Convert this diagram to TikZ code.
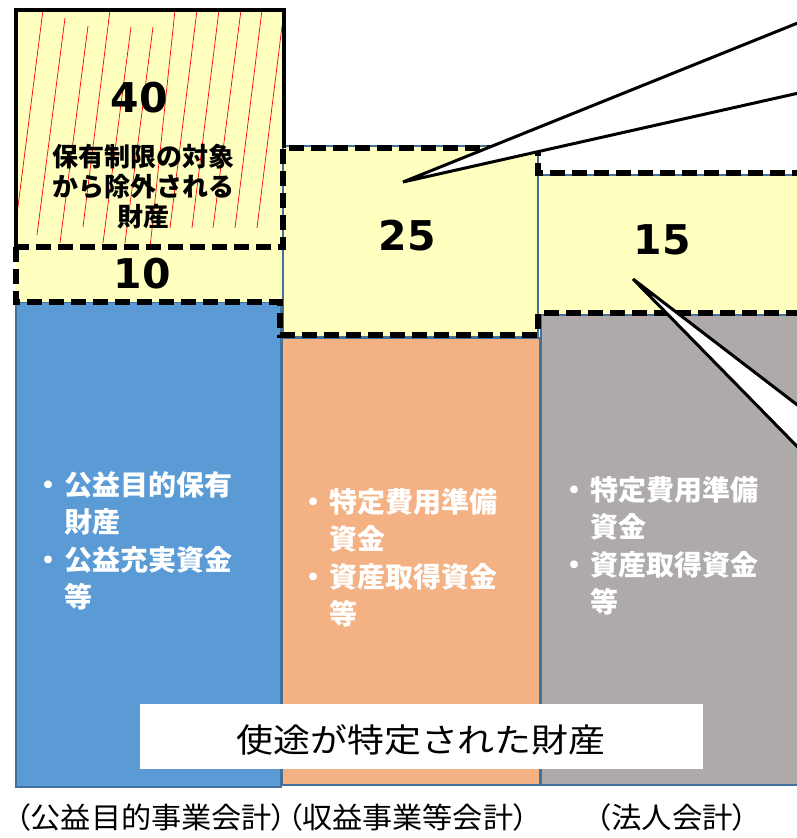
\documentclass[tikz,border=0pt]{standalone}
\usepackage{fontspec}
\usepackage{graphicx}
\newfontfamily\jp{Noto Sans CJK JP}
\newfontfamily\jpp[RawFeature=+palt]{Noto Sans CJK JP}
\newfontfamily\numf{DejaVu Sans}
\definecolor{yel}{HTML}{FFFFC0}
\definecolor{colblue}{HTML}{5B9BD5}
\definecolor{colorange}{HTML}{F4B183}
\definecolor{colgray}{HTML}{AEAAAA}
\definecolor{edgeblue}{HTML}{41719C}
\tikzset{
  colbox/.style={draw=edgeblue, line width=1.5pt},
  yelbox/.style={fill=yel},
  dashline/.style={line width=5.5pt, dash pattern=on 15pt off 7pt},
  callout/.style={draw=black, fill=white, line width=3pt, line join=miter},
  hatch/.style={draw=red, line width=0.7pt},
  numtext/.style={font=\numf\bfseries\fontsize{41}{41}\selectfont, inner sep=0pt},
  coltext/.style={text=white, font=\jp\bfseries\fontsize{28}{37.5}\selectfont, anchor=base west, inner sep=0pt},
  acctext/.style={font=\jpp\fontsize{29}{29}\selectfont, inner sep=0pt},
}
\begin{document}
\begin{tikzpicture}[x=1pt,y=-1pt]
\useasboundingbox (0,0) rectangle (797,838);
\begin{scope}
\clip (0,0) rectangle (797,838);
% columns
\fill[colblue] (16,302) rectangle (281,787);
\draw[colbox, line width=2pt] (16,302) rectangle (281,787);
\fill[colorange] (282,338) rectangle (540,785);
\draw[colbox] (282,338) rectangle (540,785);
\fill[colgray] (541,315) rectangle (810,785);
\draw[colbox] (541,315) rectangle (810,785);
% yellow boxes
\fill[yelbox] (16,10) rectangle (284,247);
\fill[yelbox] (16,247) rectangle (283,302);
\filldraw[yelbox, draw=edgeblue, line width=1.2pt] (283,146) rectangle (538,337);
\filldraw[yelbox, draw=edgeblue, line width=1.2pt] (538,175) rectangle (810,315);
% hatch lines
\foreach \xt/\yt/\xb/\yb in {43/10/15/230, 65/18/37/235, 88/26/60/243, 110/10/83/227,
  131/27/103/243, 153/27/125/243, 175/10/150/248, 197/10/170/228, 219/10/192/228,
  241/10/213/228, 262/10/235/228, 284/10/257/228}
  \draw[hatch] (\xt,\yt) -- (\xb,\yb);
% solid border of the 40 box
\draw[line width=3.5pt, line join=miter] (16,247) -- (16,10) -- (284,10) -- (284,148);
% dashed outline
\draw[dashline] (14,247) -- (283,247) -- (283,148) -- (538,148) -- (538,173) -- (810,173);
\draw[dashline] (16,247) -- (16,302) -- (280,302) -- (280,335) -- (538,335) -- (538,313) -- (810,313);
% callouts
\draw[callout] (403,182) -- (830,10) -- (830,86) -- cycle;
\draw[callout] (633,279) -- (830,430) -- (830,480) -- cycle;
\end{scope}
% numbers
\node[numtext] (n40) at (139,98) {40};
\node[numtext] (n10) at (142,274) {10};
\node[numtext] (n25) at (407,236) {25};
\node[numtext] (n15) at (662,240) {15};
\node[font=\jp\bfseries\fontsize{26}{30}\selectfont, align=center, inner sep=0pt] (excl) at (143,187)
  {保有制限の対象\\から除外される\\財産};
% column texts
\node[coltext] (tblue) at (32,495) {\begin{tabular}[t]{@{}l@{}l@{}}\makebox[32pt][c]{・}&公益目的保有\\&財産\\\makebox[32pt][c]{・}&公益充実資金\\&等\end{tabular}};
\node[coltext] (torange) at (297,512) {\begin{tabular}[t]{@{}l@{}l@{}}\makebox[32pt][c]{・}&特定費用準備\\&資金\\\makebox[32pt][c]{・}&資産取得資金\\&等\end{tabular}};
\node[coltext] (tgray) at (558,500) {\begin{tabular}[t]{@{}l@{}l@{}}\makebox[32pt][c]{・}&特定費用準備\\&資金\\\makebox[32pt][c]{・}&資産取得資金\\&等\end{tabular}};
% label box
\node[fill=white, minimum width=563pt, minimum height=65pt, inner sep=0pt] (lbl) at (421.5,736.5) {};
\node[font=\jp\fontsize{33}{33}\selectfont, inner sep=0pt] (lbltext) at (421,740) {\scalebox{1.12}[1]{使途が特定された財産}};
% bottom labels
\node[acctext] (accA) at (272,817) {\scalebox{1.04}[1]{（公益目的事業会計）（収益事業等会計）}};
\node[acctext] (accB) at (672,817) {\scalebox{1.05}[1]{（法人会計）}};
\end{tikzpicture}
\end{document}
